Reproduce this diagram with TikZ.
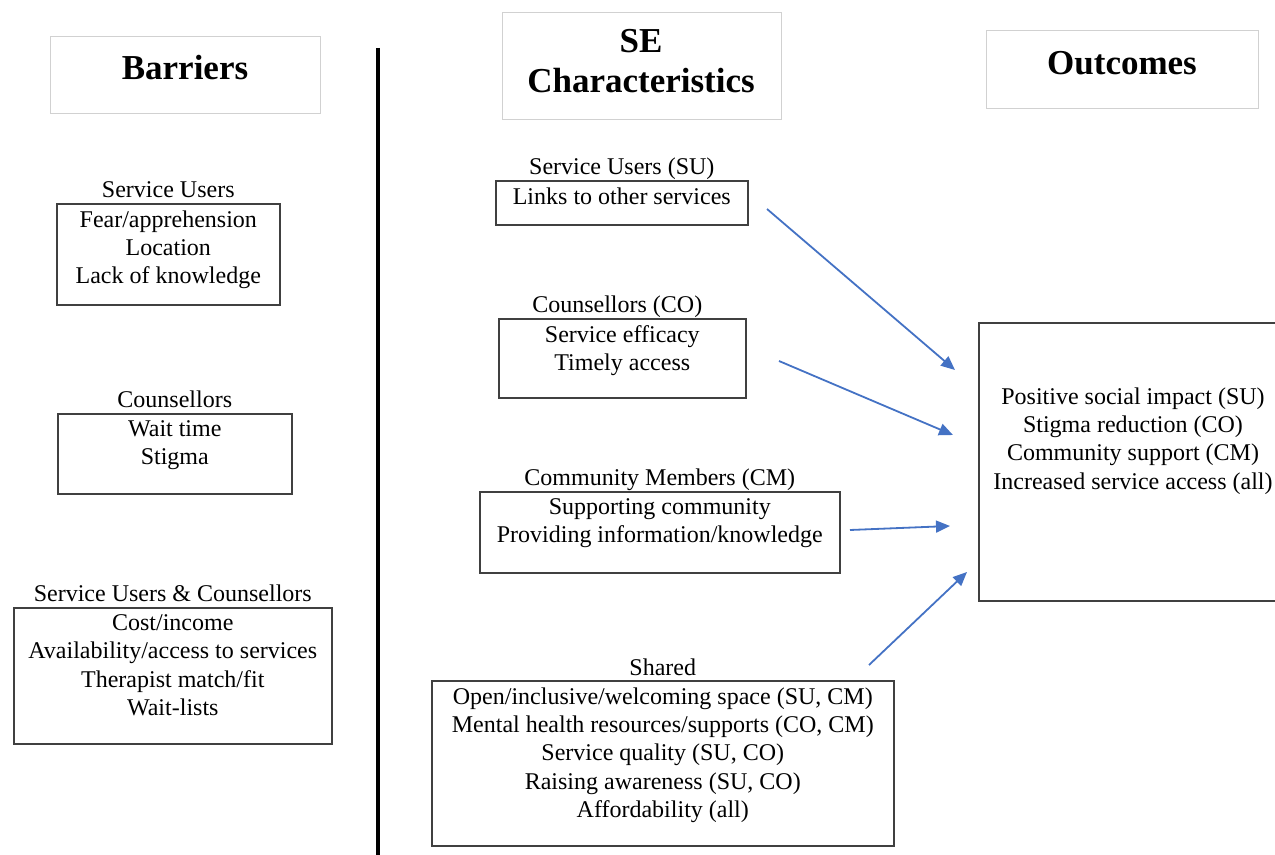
\documentclass[tikz,border=0pt]{standalone}
\usepackage{fontspec}
\setmainfont{Liberation Serif}
\usetikzlibrary{arrows.meta}
\definecolor{linkblue}{HTML}{4472C4}

\begin{document}
\begin{tikzpicture}[x=0.5pt,y=-0.5pt]
  \useasboundingbox (0,0) rectangle (1275,855);

  % Define styles for headers, groups and links
  \tikzset{
    headbox/.style={draw=black!18, line width=0.5pt, anchor=north west, inner sep=0pt},
    headtext/.style={font=\fontsize{17.5}{20}\selectfont\bfseries, align=center},
    groupbox/.style={draw=black!75, line width=0.8pt, anchor=north west, inner sep=0pt},
    grouplabel/.style={font=\fontsize{12}{14}\selectfont, anchor=base, inner sep=0pt},
    grouptext/.style={font=\fontsize{12}{14.2}\selectfont, align=center, anchor=north, inner sep=3.5pt},
    link/.style={-{Triangle[length=7pt,width=6pt]}, draw=linkblue, line width=0.9pt}
  }

  % Column headers
  \node[headbox, minimum width=135pt, minimum height=38.5pt] (barhead) at (50,36) {};
  \node[headtext, anchor=base] (bartitle) at (185,80) {Barriers};
  \node[headbox, minimum width=139.5pt, minimum height=53.5pt] (sehead) at (502,12) {};
  \node[headtext] (setitle) at (641,61) {SE\\Characteristics};
  \node[headbox, minimum width=136pt, minimum height=39pt] (outhead) at (986,30) {};
  \node[headtext, anchor=base] (outtitle) at (1122,75) {Outcomes};

  % Divider between barriers and characteristics
  \coordinate (divtop) at (378,48);
  \coordinate (divbot) at (378,855);
  \draw[line width=2pt] (divtop) -- (divbot);

  % Barriers
  \node[groupbox, minimum width=111.5pt, minimum height=50.5pt] (subar) at (56,203) {};
  \node[grouplabel] (subarlbl) at ([yshift=2.5pt]subar.north) {Service Users};
  \node[grouptext] (subartext) at (subar.north) {Fear/apprehension\\Location\\Lack of knowledge};

  \node[groupbox, minimum width=117pt, minimum height=40pt] (cobar) at (57,413) {};
  \node[grouplabel] (cobarlbl) at ([yshift=2.5pt]cobar.north) {Counsellors};
  \node[grouptext] (cobartext) at (cobar.north) {Wait time\\Stigma};

  \node[groupbox, minimum width=159pt, minimum height=68pt] (bothbar) at (13,607) {};
  \node[grouplabel] (bothbarlbl) at ([yshift=2.5pt]bothbar.north) {Service Users \& Counsellors};
  \node[grouptext] (bothbartext) at (bothbar.north) {Cost/income\\Availability/access to services\\Therapist match/fit\\Wait-lists};

  % SE characteristics
  \node[groupbox, minimum width=126pt, minimum height=22pt] (suse) at (495,180) {};
  \node[grouplabel] (suselbl) at ([yshift=2.5pt]suse.north) {Service Users (SU)};
  \node[grouptext] (susetext) at (suse.north) {Links to other services};

  \node[groupbox, minimum width=123.5pt, minimum height=39.5pt] (cose) at (498,318) {};
  \node[grouplabel] (coselbl) at ([xshift=-2.5pt,yshift=2.5pt]cose.north) {Counsellors (CO)};
  \node[grouptext] (cosetext) at (cose.north) {Service efficacy\\Timely access};

  \node[groupbox, minimum width=180pt, minimum height=40.5pt] (cmse) at (479,491) {};
  \node[grouplabel] (cmselbl) at ([yshift=2.5pt]cmse.north) {Community Members (CM)};
  \node[grouptext] (cmsetext) at (cmse.north) {Supporting community\\Providing information/knowledge};

  \node[groupbox, minimum width=231pt, minimum height=82.5pt] (shse) at (431,680) {};
  \node[grouplabel] (shselbl) at ([yshift=2.5pt]shse.north) {Shared};
  \node[grouptext] (shsetext) at (shse.north) {Open/inclusive/welcoming space (SU, CM)\\Mental health resources/supports (CO, CM)\\Service quality (SU, CO)\\Raising awareness (SU, CO)\\Affordability (all)};

  % Outcomes
  \node[groupbox, minimum width=155pt, minimum height=139pt] (outbox) at (978,322) {};
  \node[grouptext] (outtext) at (1133,380) {Positive social impact (SU)\\Stigma reduction (CO)\\Community support (CM)\\Increased service access (all)};

  % Links to outcomes
  \coordinate (su-from) at (767,209);
  \coordinate (su-to) at (955,370);
  \coordinate (co-from) at (779,361);
  \coordinate (co-to) at (953,435);
  \coordinate (cm-from) at (850,530);
  \coordinate (cm-to) at (950,526);
  \coordinate (sh-from) at (869,665);
  \coordinate (sh-to) at (967,572);
  \draw[link] (su-from) -- (su-to);
  \draw[link] (co-from) -- (co-to);
  \draw[link] (cm-from) -- (cm-to);
  \draw[link] (sh-from) -- (sh-to);

\end{tikzpicture}
\end{document}
